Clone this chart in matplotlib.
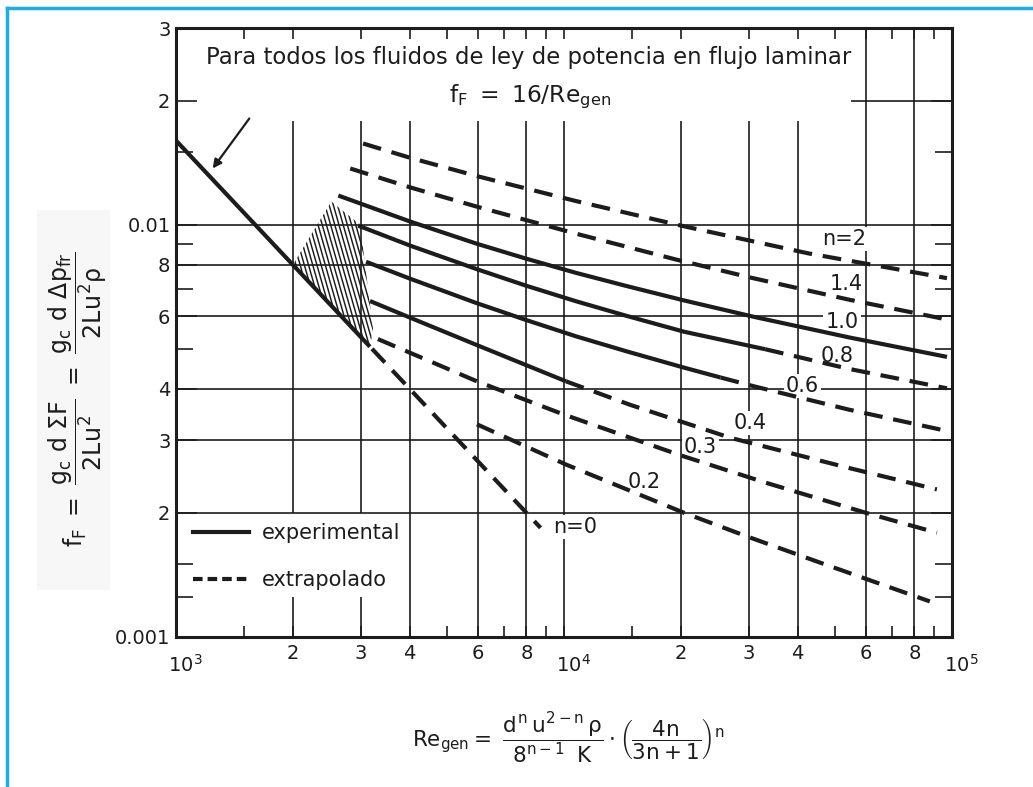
import numpy as np
import matplotlib.pyplot as plt
from matplotlib.patches import Polygon, Rectangle
from matplotlib.lines import Line2D
from matplotlib.transforms import blended_transform_factory

plt.rcParams['font.family'] = 'DejaVu Sans'
plt.rcParams['mathtext.fontset'] = 'custom'
plt.rcParams['mathtext.rm'] = 'DejaVu Sans'
plt.rcParams['mathtext.it'] = 'DejaVu Sans'
plt.rcParams['mathtext.bf'] = 'DejaVu Sans:bold'

INK = '#1c1c1c'

# laminar line f = 16/Re and its extrapolation for n = 0
re_lam = [1000, 3160]
f_lam = [0.016, 0.00506]
re_n0 = [3200, 8700]
f_n0 = [0.0050, 0.00184]

# extrapolated curves (dashed over their whole length)
re_n2 = [3035, 4024, 5965, 10750, 20410, 42670, 97050]
f_n2 = [0.01574, 0.01452, 0.01312, 0.01141, 0.00991, 0.00852, 0.00742]
re_n14 = [2812, 4024, 5965, 10750, 19570, 30320, 54250, 97050]
f_n14 = [0.01369, 0.01231, 0.01106, 0.00951, 0.00822, 0.00744, 0.00658, 0.00589]
re_n03 = [3314, 5965, 9940, 19930, 32980, 60060, 91400]
f_n03 = [0.00528, 0.00417, 0.00347, 0.00276, 0.00237, 0.00200, 0.00179]
re_n02 = [5965, 10120, 20410, 29790, 48990, 87660]
f_n02 = [0.00328, 0.00262, 0.00200, 0.00175, 0.00148, 0.00122]

# experimental curves (solid)
re_n10 = [2620, 4024, 5965, 8000, 10750, 14500, 20410, 31060, 54250, 97050]
f_n10 = [0.01177, 0.01017, 0.00899, 0.00827, 0.00764, 0.00710, 0.00655,
         0.00597, 0.00533, 0.00478]
re_n08 = [2948, 4024, 5965, 8000, 10750, 14500, 20410, 32980]
f_n08 = [0.00995, 0.00889, 0.00780, 0.00711, 0.00652, 0.00601, 0.00550, 0.00499]
re_n06 = [3089, 4024, 5965, 8000, 10750, 14500, 20410, 25330]
f_n06 = [0.00813, 0.00739, 0.00645, 0.00587, 0.00536, 0.00493, 0.00450, 0.00426]
re_n04 = [3162, 4119, 6072, 10120]
f_n04 = [0.00653, 0.00589, 0.00507, 0.00417]

# their extrapolated continuations
re_n08x = [32980, 54250, 97050]
f_n08x = [0.00499, 0.00447, 0.00401]
re_n06x = [25330, 31060, 54250, 97050]
f_n06x = [0.00426, 0.00405, 0.00356, 0.00316]
re_n04x = [10120, 14770, 26900, 54250, 91400]
f_n04x = [0.00417, 0.00366, 0.00304, 0.00257, 0.00228]

# transition zone (hatched)
re_zone = [2514, 2983, 3071, 3219, 3162, 2000]
f_zone = [0.01138, 0.0100, 0.0080, 0.005585, 0.00506, 0.0080]

# curve labels
lbl_text = ['n=2', '1.4', '1.0', '0.8', '0.6', '0.4', '0.3', '0.2', 'n=0']
lbl_re = [52650, 53290, 52010, 50480, 41180, 30150, 22460, 16060, 10680]
lbl_f = [0.00925, 0.00719, 0.00581, 0.0048, 0.00406, 0.0033, 0.002884, 0.002383, 0.001852]

# axes ticks
x_major = [1e3, 2e3, 3e3, 4e3, 6e3, 8e3, 1e4, 2e4, 3e4, 4e4, 6e4, 8e4, 1e5]
x_major_lbl = ['', '2', '3', '4', '6', '8', '', '2', '3', '4', '6', '8', '']
x_minor = [1.5e3, 5e3, 7e3, 9e3, 1.5e4, 5e4, 7e4, 9e4]
decades = [1e3, 1e4, 1e5]
decade_lbl = [r'$10^3$', r'$10^4$', r'$10^5$']
y_major = [0.001, 0.002, 0.003, 0.004, 0.006, 0.008, 0.01, 0.02, 0.03]
y_major_lbl = ['0.001', '2', '3', '4', '6', '8', '0.01', '2', '3']
y_minor = [0.00125, 0.0015, 0.005, 0.007, 0.009, 0.015]

fig = plt.figure(figsize=(10.33, 7.87), dpi=100)
ax = fig.add_axes([0.1704, 0.1906, 0.7512, 0.7738])
ax.set_xscale('log')
ax.set_yscale('log')
ax.set_xlim(1e3, 1e5)
ax.set_ylim(0.001, 0.03)

# grid, drawn by hand because it is broken round the text
gkw = dict(color=INK, lw=1.2, zorder=1)
ax.vlines([4e3, 6e3, 8e3, 1e4, 2e4, 3e4, 4e4], 0.001, 0.0178, **gkw)
ax.vlines([2e3, 3e3], 0.002, 0.0178, **gkw)
ax.vlines([2e3, 3e3], 0.001, 0.00125, **gkw)
ax.vlines([6e4, 8e4], 0.001, 0.03, **gkw)
ax.hlines([0.002, 0.003, 0.004, 0.006, 0.008, 0.01], 1e3, 1e5, **gkw)
ax.hlines([0.02], 5.5e4, 1e5, **gkw)

solid = dict(color=INK, lw=3.0, solid_capstyle='butt', solid_joinstyle='round', zorder=4)
dashed = dict(color=INK, lw=3.0, ls=(0, (4.5, 2.6)), dash_capstyle='butt', zorder=4)

ax.plot(re_lam, f_lam, **solid)
ax.plot(re_n0, f_n0, **dashed)
for r, f in [(re_n2, f_n2), (re_n14, f_n14), (re_n03, f_n03), (re_n02, f_n02),
             (re_n08x, f_n08x), (re_n06x, f_n06x), (re_n04x, f_n04x)]:
    ax.plot(r, f, **dashed)
for r, f in [(re_n10, f_n10), (re_n08, f_n08), (re_n06, f_n06), (re_n04, f_n04)]:
    ax.plot(r, f, **solid)

# hatched transition zone: steep strokes clipped to the polygon
zone = Polygon(list(zip(re_zone, f_zone)), closed=True, facecolor='none',
               edgecolor='none')
ax.add_patch(zone)
for x0 in np.arange(-0.1, 0.4, 0.0054):
    ln, = ax.plot([x0, x0 + 0.224], [1, 0], transform=ax.transAxes,
                  color=INK, lw=1.05, zorder=3)
    ln.set_clip_path(zone)

ax.annotate('', xy=(1243, 0.01369), xytext=(1545, 0.0181),
            arrowprops=dict(arrowstyle='-|>', color=INK, lw=1.6,
                            mutation_scale=13, shrinkA=0, shrinkB=0))

for t, r, f in zip(lbl_text, lbl_re, lbl_f):
    ax.text(r, f, t, fontsize=15, ha='center', va='center', color=INK, zorder=3,
            bbox=dict(facecolor='white', edgecolor='none', pad=1.5))

ax.text(0.455, 0.951, 'Para todos los fluidos de ley de potencia en flujo laminar',
        transform=ax.transAxes, ha='center', va='center', fontsize=16.4, color=INK)
ax.text(0.456, 0.887, r'$f_F\ =\ 16/\mathrm{Re}_{gen}$',
        transform=ax.transAxes, ha='center', va='center', fontsize=16.8, color=INK)

handles = [Line2D([], [], color=INK, lw=3.0),
           Line2D([], [], color=INK, lw=3.0, ls=(0, (2.3, 1.2)))]
ax.legend(handles, ['experimental', 'extrapolado'], loc='lower left',
          bbox_to_anchor=(0.0, 0.05), frameon=False, fontsize=15,
          handlelength=2.7, handletextpad=0.6, labelspacing=1.28,
          borderaxespad=0, borderpad=0.8, labelcolor=INK)

# ticks
ax.set_xticks(x_major, labels=x_major_lbl)
ax.set_xticks(x_minor, labels=[''] * len(x_minor), minor=True)
ax.set_yticks(y_major, labels=y_major_lbl)
ax.set_yticks(y_minor, labels=[''] * len(y_minor), minor=True)
ax.tick_params(which='both', direction='in', top=True, right=True, color=INK,
               width=1.2, labelsize=14, labelcolor=INK)
ax.tick_params(axis='x', which='both', length=8, pad=5)
ax.tick_params(axis='y', which='major', length=15, pad=4)
ax.tick_params(axis='y', which='minor', length=12)

xt = blended_transform_factory(ax.transData, ax.transAxes)
for d, s in zip(decades, decade_lbl):
    ax.annotate(s, xy=(d, 0), xycoords=xt, xytext=(7, -20),
                textcoords='offset points', ha='center', va='center',
                fontsize=14, color=INK)

for sp in ax.spines.values():
    sp.set_linewidth(2.2)
    sp.set_color(INK)

fig.text(78 / 1033, 1 - 399 / 787,
         r'$f_F\ =\ \dfrac{g_c\ d\ \Sigma F}{2Lu^2}\ =\ '
         r'\dfrac{g_c\ d\ \Delta p_{fr}}{2Lu^2\rho}$',
         rotation=90, ha='center', va='center', fontsize=17, color=INK)
fig.text(568 / 1033, 1 - 738 / 787,
         r'$Re_{gen}=\ \dfrac{d^n\,u^{2-n}\,\rho}{8^{n-1}\;\;K}\cdot'
         r'\left(\dfrac{4n}{3n+1}\right)^n$',
         ha='center', va='center', fontsize=15.5, color=INK)

# scan shading behind the ordinate title and the page frame
fig.patches.append(Rectangle((37 / 1033, 1 - 590 / 787), 73 / 1033, 380 / 787,
                             transform=fig.transFigure, facecolor='#f7f7f7',
                             edgecolor='none', zorder=0))
fig.add_artist(Line2D([7 / 1033, 7 / 1033], [0, 1 - 8 / 787],
                      transform=fig.transFigure, color='#1aaeec', lw=2.5))
fig.add_artist(Line2D([7 / 1033, 1], [1 - 8 / 787, 1 - 8 / 787],
                      transform=fig.transFigure, color='#1aaeec', lw=2.5))

fig.savefig('out.png', dpi=100)
